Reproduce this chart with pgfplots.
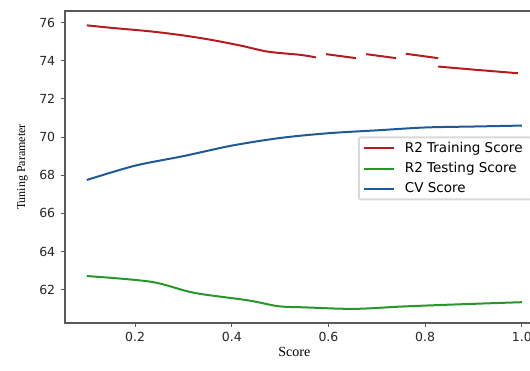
\documentclass[border=0pt]{standalone}
\usepackage{pgfplots}
\pgfplotsset{compat=1.18}
\usepackage{fontspec}
\setmainfont{Liberation Serif}
\newfontfamily\tickfont{DejaVu Sans}
\definecolor{cred}{RGB}{180,28,32}
\definecolor{cgreen}{RGB}{40,150,40}
\definecolor{cblue}{RGB}{30,90,150}
\definecolor{spine}{RGB}{90,90,90}
\begin{document}
\begin{tikzpicture}
\begin{axis}[
  scale only axis,
  width=478.6pt, height=312pt,
  xmin=0.055, xmax=1.045,
  ymin=60.26, ymax=76.6,
  xtick={0.2,0.4,0.6,0.8,1.0},
  xticklabels={0.2,0.4,0.6,0.8,1.0},
  ytick={62,64,66,68,70,72,74,76},
  xtick pos=bottom, ytick pos=left,
  tick align=outside,
  major tick length=3.5pt,
  tick style={spine, line width=1pt},
  axis line style={spine, line width=1.4pt},
  ticklabel style={font=\tickfont\fontsize{12.5}{14}\selectfont, text=black!85},
  /pgf/number format/assume math mode=true,
  yticklabel style={xshift=-2pt},
  xticklabel style={yshift=-1pt},
  xlabel={Score},
  ylabel={Tuning Parameter},
  xlabel style={font=\fontsize{14}{16}\selectfont, yshift=2pt, xshift=-10pt},
  ylabel style={font=\fontsize{12}{14}\selectfont, yshift=4pt},
  legend style={at={(rel axis cs:0.612,0.598)}, anchor=north west,
    draw=black!15, rounded corners=2pt, fill=white,
    font=\tickfont\fontsize{13.5}{16}\selectfont,
    inner xsep=4pt, inner ysep=3pt, row sep=4.5pt,
    nodes={inner xsep=5pt}},
  legend cell align=left,
  legend image code/.code={\draw[#1] (0pt,0pt) -- (30pt,0pt); \path (35pt,0pt);},
  line width=2pt,
]
\addplot[cred, smooth, forget plot] coordinates {
  (0.1,75.85) (0.15,75.72) (0.233,75.53) (0.3,75.32) (0.357,75.09)
  (0.42,74.78) (0.475,74.47) (0.543,74.3) (0.574,74.17)};
\addplot[cred, forget plot] coordinates {(0.595,74.34) (0.657,74.13)};
\addplot[cred, forget plot] coordinates {(0.678,74.34) (0.740,74.13)};
\addplot[cred, forget plot] coordinates {(0.760,74.36) (0.827,74.13)};
\addplot[cred] coordinates {(0.827,73.69) (0.9,73.53) (0.992,73.34)};
\addlegendentry{R2 Training Score}
\addplot[cgreen, smooth] coordinates {
  (0.1,62.72) (0.233,62.42) (0.322,61.84) (0.433,61.45) (0.496,61.14)
  (0.55,61.08) (0.653,61.0) (0.75,61.12) (0.85,61.22) (1.0,61.35)};
\addlegendentry{R2 Testing Score}
\addplot[cblue, smooth] coordinates {
  (0.1,67.75) (0.2,68.5) (0.3,69.0) (0.4,69.55) (0.5,69.95)
  (0.6,70.2) (0.7,70.35) (0.8,70.5) (0.9,70.55) (1.0,70.6)};
\addlegendentry{CV Score}
\end{axis}
\pgfresetboundingbox
\path[use as bounding box] ([xshift=-65pt,yshift=-47pt]current axis.south west) rectangle ([xshift=465pt,yshift=11pt]current axis.north west);
\end{tikzpicture}
\end{document}
